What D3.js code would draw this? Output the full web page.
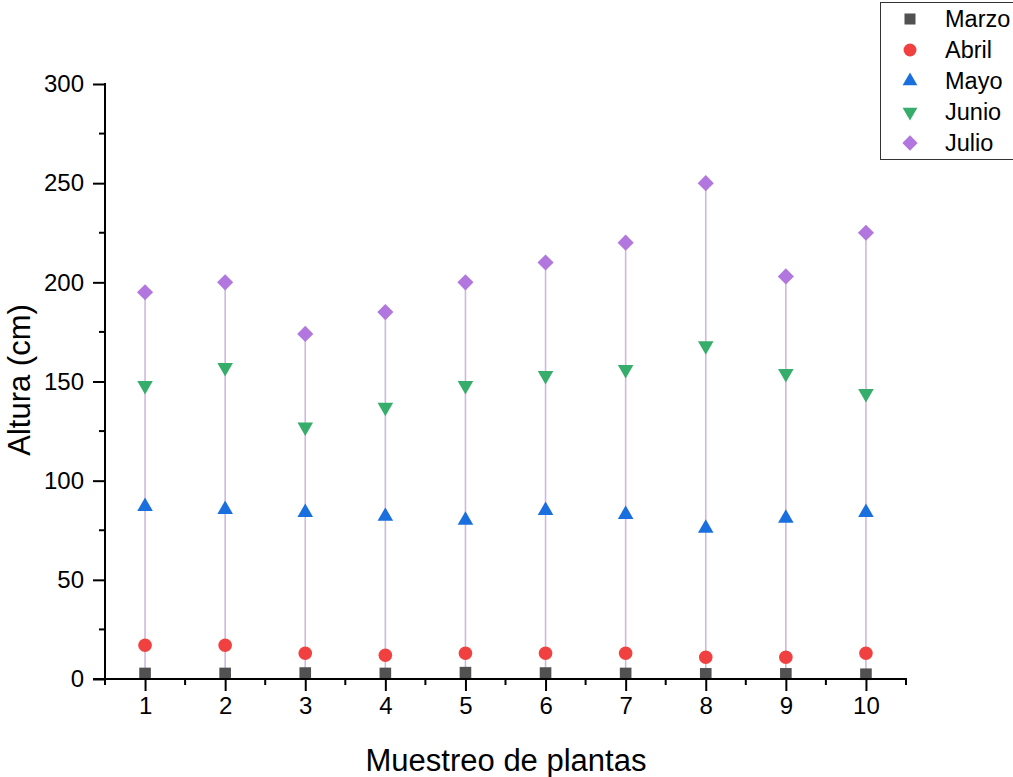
<!DOCTYPE html>
<html>
<head>
<meta charset="utf-8">
<script src="https://cdn.jsdelivr.net/npm/d3@7"></script>
<style>
  html, body { margin: 0; padding: 0; background: #fff; }
  svg { display: block; font-family: "Liberation Sans", Arial, sans-serif; }
</style>
</head>
<body>
<svg id="chart" width="1013" height="777"></svg>
<script>
const muestras = [1, 2, 3, 4, 5, 6, 7, 8, 9, 10];
const marzo = [2.8, 2.8, 3.0, 2.8, 3.2, 3.0, 2.8, 2.6, 2.6, 2.4];
const abril = [17, 17, 13, 12, 13, 13, 13, 11, 11, 13];
const mayo  = [87, 85.5, 84, 82, 80, 85, 83, 76, 81, 84];
const junio = [148, 157, 127, 137, 148, 153, 156, 168, 154, 144];
const julio = [195, 200, 174, 185, 200, 210, 220, 250, 203, 225];
const seriesNames = ["Marzo", "Abril", "Mayo", "Junio", "Julio"];
const seriesColors = ["#515151", "#F14040", "#1A6FDF", "#37AD6B", "#B177DE"];
const yTicks = [0, 50, 100, 150, 200, 250, 300];
const xTicks = [1, 2, 3, 4, 5, 6, 7, 8, 9, 10];
const xTitle = "Muestreo de plantas";
const yTitle = "Altura (cm)";

const seriesValues = [marzo, abril, mayo, junio, julio];

const svg = d3.select("#chart");
const x = d3.scaleLinear().domain([0.5, 10.5]).range([105, 906]);
const y = d3.scaleLinear().domain([0, 300]).range([679, 84]);

const shapes = [
  { type: d3.symbolSquare, size: 135, rot: 0 },
  { type: d3.symbolCircle, size: 145, rot: 0 },
  { type: d3.symbolTriangle, size: 105, rot: 0 },
  { type: d3.symbolTriangle, size: 105, rot: 180 },
  { type: d3.symbolSquare, size: 130, rot: 45 }
];

const g = svg.append("g");
g.selectAll("line.drop").data(muestras).join("line")
  .attr("class", "drop")
  .attr("x1", d => x(d)).attr("x2", d => x(d))
  .attr("y1", (d, i) => y(d3.min(seriesValues, s => s[i])))
  .attr("y2", (d, i) => y(d3.max(seriesValues, s => s[i])))
  .attr("stroke", "#cdb8de").attr("stroke-width", 1.6);

seriesValues.forEach((vals, si) => {
  const sh = shapes[si];
  const sym = d3.symbol().type(sh.type).size(sh.size);
  g.selectAll("path.s" + si).data(muestras).join("path")
    .attr("class", "s" + si)
    .attr("d", sym())
    .attr("transform", (d, i) => `translate(${x(d)},${y(vals[i])}) rotate(${sh.rot})`)
    .attr("fill", seriesColors[si]);
});

const axisColor = "#000";
const xAxis = d3.axisBottom(x).tickValues(xTicks).tickSize(12).tickPadding(6).tickFormat(d3.format("d"));
const xg = svg.append("g").attr("transform", "translate(0,679)").call(xAxis);
xg.select(".domain").remove();
xg.append("line").attr("x1", 93).attr("x2", 907).attr("y1", 0).attr("y2", 0)
  .attr("stroke", axisColor).attr("stroke-width", 2);
xg.selectAll(".tick line").attr("stroke", axisColor).attr("stroke-width", 2);
xg.selectAll(".tick text").attr("font-size", 24).attr("fill", "#000")
  .attr("font-family", "Liberation Sans, Arial, sans-serif");
const xMinor = d3.range(0.5, 11, 1);
xg.selectAll("line.minor").data(xMinor).join("line").attr("class", "minor")
  .attr("x1", d => x(d)).attr("x2", d => x(d)).attr("y1", 0).attr("y2", 6)
  .attr("stroke", axisColor).attr("stroke-width", 2);

const yAxis = d3.axisLeft(y).tickValues(yTicks).tickSize(12).tickPadding(9);
const yg = svg.append("g").attr("transform", "translate(105,0)").call(yAxis);
yg.select(".domain").remove();
yg.append("line").attr("x1", 0).attr("x2", 0).attr("y1", y(0) + 1).attr("y2", y(300) - 1)
  .attr("stroke", axisColor).attr("stroke-width", 2);
yg.selectAll(".tick line").attr("stroke", axisColor).attr("stroke-width", 2);
yg.selectAll(".tick text").attr("font-size", 24).attr("fill", "#000")
  .attr("font-family", "Liberation Sans, Arial, sans-serif");
const yMinor = d3.range(25, 300, 50);
yg.selectAll("line.minor").data(yMinor).join("line").attr("class", "minor")
  .attr("x1", -6).attr("x2", 0).attr("y1", d => y(d)).attr("y2", d => y(d))
  .attr("stroke", axisColor).attr("stroke-width", 2);

svg.append("text").attr("x", 506).attr("y", 771).attr("text-anchor", "middle")
  .attr("font-size", 31).attr("fill", "#000").text(xTitle);
svg.append("text").attr("transform", "translate(30,380) rotate(-90)").attr("text-anchor", "middle")
  .attr("font-size", 31).attr("fill", "#000").text(yTitle);

const lg = svg.append("g");
lg.append("rect").attr("x", 880.5).attr("y", 2.5).attr("width", 140).attr("height", 157)
  .attr("fill", "#fff").attr("stroke", "#333").attr("stroke-width", 1);
const rowY = d3.scaleLinear().domain([0, 4]).range([19, 143]);
seriesNames.forEach((name, si) => {
  const sh = shapes[si];
  const sym = d3.symbol().type(sh.type).size(sh.size * 0.9);
  lg.append("path").attr("d", sym())
    .attr("transform", `translate(910,${rowY(si)}) rotate(${sh.rot})`)
    .attr("fill", seriesColors[si]);
  lg.append("text").attr("x", 945).attr("y", rowY(si)).attr("dy", "0.36em")
    .attr("font-size", 23.5).attr("fill", "#000").text(name);
});
</script>
</body>
</html>
